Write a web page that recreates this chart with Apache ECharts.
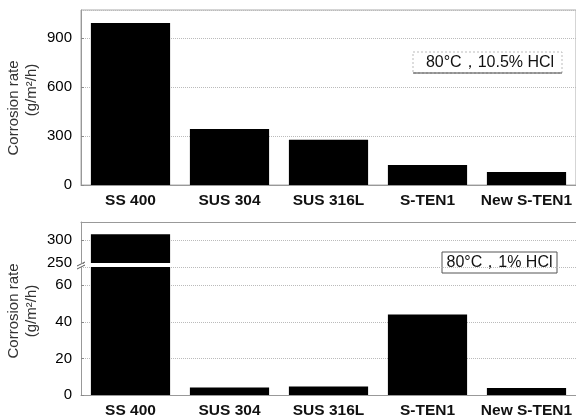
<!DOCTYPE html>
<html lang="en">

<head>
    <meta charset="UTF-8">
    <title>Corrosion rate</title>
    <script src="https://cdn.jsdelivr.net/npm/echarts@6/dist/echarts.min.js"></script>
</head>

<body style="margin:0">
    <div id="main" style="width: 576px;height:419px;"></div>
    <script>
        let steels = ['SS 400', 'SUS 304', 'SUS 316L', 'S-TEN1', 'New S-TEN1']
        // g/m2/h, 80°C
        let rate105 = [990, 343, 277, 122, 80]
        let rate1 = [313, 4.1, 4.6, 44, 3.8]
        let ticksTop = { min: 0, max: 1070, interval: 300 }
        let ticksBreakHi = { min: 250, max: 340, interval: 50 }
        let ticksBreakLo = { min: 0, max: 70, interval: 20 }
    </script>
    <script>
        var chartDom = document.getElementById('main');
        var myChart = echarts.init(chartDom);
        var option;

        var font = "'Liberation Sans', Arial, sans-serif";
        var axisLine = { show: true, lineStyle: { color: '#999' } };

        function valueAxis(idx, t, hideMin) {
            return {
                type: 'value', gridIndex: idx,
                min: t.min, max: t.max, interval: t.interval,
                axisLine: axisLine,
                axisTick: { show: true, inside: true, length: 3, lineStyle: { color: '#888' } },
                axisLabel: { showMaxLabel: false, margin: 9, fontSize: 15, color: '#000', fontFamily: font },
                splitLine: { show: true, showMinLine: !hideMin, lineStyle: { type: 'dotted', color: '#bbb' } }
            };
        }

        function catAxis(idx, pos, labels) {
            return {
                type: 'category', gridIndex: idx, data: steels, position: pos,
                axisLine: axisLine,
                axisTick: { show: false },
                axisLabel: { show: labels, interval: 0, margin: 8, fontSize: 15.5, fontWeight: 'bold', color: '#111', fontFamily: font }
            };
        }

        function yName(x, y, text) {
            return {
                type: 'text', x: x, y: y, rotation: Math.PI / 2,
                style: { text: text, fontSize: 15, fontFamily: font, fill: '#333', align: 'center', verticalAlign: 'middle' }
            };
        }

        option = {
            animation: false,
            grid: [
                { left: 81, top: 10, width: 498, height: 175, show: true, borderColor: '#aaa', borderWidth: 1 },
                { left: 81, top: 222, width: 498, height: 41 },
                { left: 81, top: 267, width: 498, height: 130 }
            ],
            xAxis: [
                catAxis(0, 'bottom', true),
                catAxis(1, 'top', false),
                catAxis(2, 'bottom', true)
            ],
            yAxis: [
                valueAxis(0, ticksTop),
                valueAxis(1, ticksBreakHi, true),
                valueAxis(2, ticksBreakLo)
            ],
            series: [
                {
                    name: '10.5% HCl', type: 'bar', xAxisIndex: 0, yAxisIndex: 0,
                    barWidth: '80%', itemStyle: { color: '#000' }, data: rate105
                },
                {
                    name: '1% HCl', type: 'bar', xAxisIndex: 1, yAxisIndex: 1, clip: true,
                    barWidth: '80%', itemStyle: { color: '#000' }, data: rate1
                },
                {
                    name: '1% HCl', type: 'bar', xAxisIndex: 2, yAxisIndex: 2, clip: true,
                    barWidth: '80%', itemStyle: { color: '#000' }, data: rate1
                }
            ],
            graphic: [
                yName(14, 108, 'Corrosion rate'),
                yName(32, 90, '(g/m²/h)'),
                yName(14, 311, 'Corrosion rate'),
                yName(32, 311, '(g/m²/h)'),
                // axis break marks
                { type: 'line', shape: { x1: 77, y1: 266, x2: 85, y2: 262 }, style: { stroke: '#555', lineWidth: 1 } },
                { type: 'line', shape: { x1: 77, y1: 269, x2: 85, y2: 265 }, style: { stroke: '#555', lineWidth: 1 } },
                // condition boxes
                { type: 'rect', shape: { x: 413, y: 52, width: 149, height: 21 }, style: { fill: 'none', stroke: '#bbb', lineDash: [2, 2] } },
                { type: 'line', shape: { x1: 413, y1: 73, x2: 562, y2: 73 }, style: { stroke: '#444', lineWidth: 1 } },
                {
                    type: 'text', x: 490, y: 63,
                    style: { text: '80°C，10.5% HCl', fontSize: 16, fontFamily: font, fill: '#111', align: 'center', verticalAlign: 'middle' }
                },
                { type: 'rect', shape: { x: 442, y: 252, width: 115, height: 21 }, style: { fill: '#fff', stroke: '#555' } },
                {
                    type: 'text', x: 499.5, y: 263,
                    style: { text: '80°C，1% HCl', fontSize: 16, fontFamily: font, fill: '#111', align: 'center', verticalAlign: 'middle' }
                }
            ]
        };

        option && myChart.setOption(option);
    </script>
</body>

</html>
